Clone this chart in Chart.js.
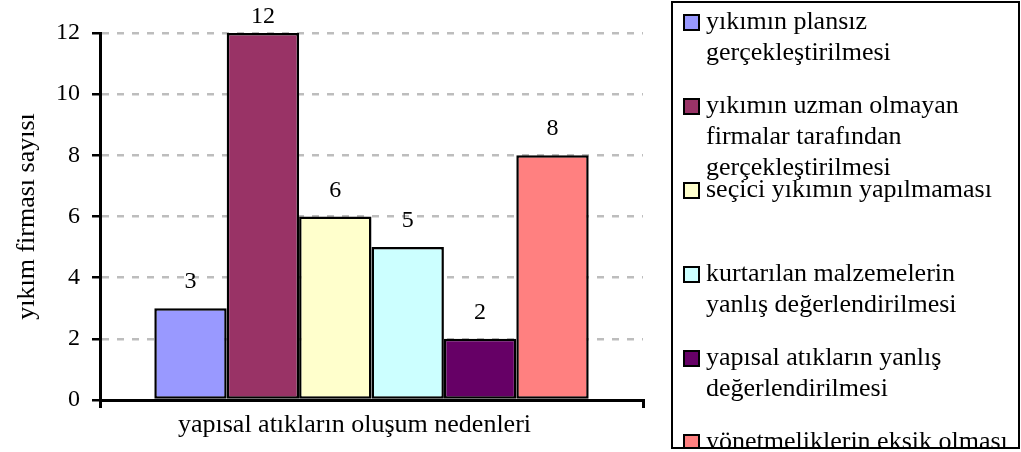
<!DOCTYPE html>
<html>
<head>
<meta charset="utf-8">
<script src="https://cdn.jsdelivr.net/npm/chart.js@4"></script>
<style>
  html, body { margin: 0; padding: 0; background: #fff; }
  canvas { display: block; }
</style>
</head>
<body>
<canvas id="grafik" width="1021" height="452"></canvas>
<script>
// veriler
const kategoriler = ['yapısal atıkların oluşum nedenleri'];
const seriAdlari = [
  ['yıkımın plansız', 'gerçekleştirilmesi'],
  ['yıkımın uzman olmayan', 'firmalar tarafından', 'gerçekleştirilmesi'],
  ['seçici yıkımın yapılmaması'],
  ['kurtarılan malzemelerin', 'yanlış değerlendirilmesi'],
  ['yapısal atıkların yanlış', 'değerlendirilmesi'],
  ['yönetmeliklerin eksik olması']
];
const seriDegerleri = [3, 12, 6, 5, 2, 8];
const yEkseniBasligi = 'yıkım firması sayısı';
const yMin = 0, yMax = 12, yAdim = 2;

const renkler = ['#9999FF', '#993366', '#FFFFCC', '#CCFFFF', '#660066', '#FF8080'];
const yazi = "'Liberation Serif', serif";

// degerleri cubuklarin ustune yaz
const degerEtiketi = {
  id: 'degerEtiketi',
  afterDatasetsDraw(chart) {
    const ctx = chart.ctx;
    ctx.save();
    ctx.font = '24px ' + yazi;
    ctx.fillStyle = '#000';
    ctx.textAlign = 'center';
    ctx.textBaseline = 'alphabetic';
    chart.data.datasets.forEach((ds, i) => {
      const bar = chart.getDatasetMeta(i).data[0];
      let y = Math.max(bar.y - 20, 23);
      ctx.fillText(String(ds.data[0]), bar.x, y);
    });
    ctx.restore();
  }
};

// sag taraftaki lejant (cok satirli)
const lejant = {
  id: 'lejant',
  afterDraw(chart) {
    const ctx = chart.ctx;
    const x0 = 672, y0 = 2, x1 = 1019, y1 = 448;
    ctx.save();
    ctx.fillStyle = '#fff';
    ctx.fillRect(x0, y0, x1 - x0, y1 - y0);
    ctx.beginPath();
    ctx.rect(x0 + 1, y0 + 1, x1 - x0 - 2, y1 - y0 - 2);
    ctx.clip();
    ctx.font = '26px ' + yazi;
    ctx.textBaseline = 'middle';
    ctx.textAlign = 'left';
    chart.data.datasets.forEach((ds, i) => {
      const yy = 22 + i * 84;
      ctx.fillStyle = ds.backgroundColor;
      ctx.fillRect(684, yy - 7, 15, 15);
      ctx.lineWidth = 2;
      ctx.strokeStyle = '#000';
      ctx.strokeRect(684, yy - 7, 15, 15);
      ctx.fillStyle = '#000';
      ds.satirlar.forEach((s, k) => {
        ctx.fillText(s, 706, yy + k * 31);
      });
    });
    ctx.restore();
    ctx.save();
    ctx.lineWidth = 2;
    ctx.strokeStyle = '#000';
    ctx.strokeRect(x0, y0, x1 - x0, y1 - y0);
    ctx.restore();
  }
};

const datasets = seriDegerleri.map((v, i) => ({
  label: seriAdlari[i].join(' '),
  satirlar: seriAdlari[i],
  data: [v],
  backgroundColor: renkler[i],
  borderColor: '#000',
  borderWidth: 2.5,
  borderSkipped: false,
  categoryPercentage: 0.8,
  barPercentage: 1.0
}));

function ciz() {
  new Chart(document.getElementById('grafik'), {
    type: 'bar',
    data: { labels: kategoriler, datasets: datasets },
    plugins: [degerEtiketi, lejant],
    options: {
      responsive: false,
      animation: false,
      devicePixelRatio: 1,
      layout: { padding: { left: 0, top: 33, right: 378, bottom: 0 } },
      plugins: {
        legend: { display: false },
        tooltip: { enabled: false }
      },
      scales: {
        x: {
          offset: true,
          grid: {
            offset: true,
            drawOnChartArea: false,
            color: '#000',
            tickColor: '#000',
            tickLength: 8,
            lineWidth: 3
          },
          border: { color: '#000', width: 3 },
          ticks: {
            color: '#000',
            font: { family: yazi, size: 26 },
            padding: 2,
            labelOffset: -17,
            maxRotation: 0
          },
          afterFit(scale) { scale.height = 52; }
        },
        y: {
          min: yMin,
          max: yMax,
          grid: {
            color: '#bdbdbd',
            tickColor: '#000',
            tickLength: 8,
            lineWidth: 2.5
          },
          border: { color: '#000', width: 3, dash: [7, 8] },
          ticks: {
            stepSize: yAdim,
            color: '#000',
            font: { family: yazi, size: 24 },
            padding: 12
          },
          title: {
            display: true,
            text: yEkseniBasligi,
            color: '#000',
            font: { family: yazi, size: 26 },
            padding: { top: 12, bottom: 0 }
          },
          afterFit(scale) { scale.width = 100; }
        }
      }
    }
  });
}

document.fonts.load("26px 'Liberation Serif'").then(ciz, ciz);
</script>
</body>
</html>
